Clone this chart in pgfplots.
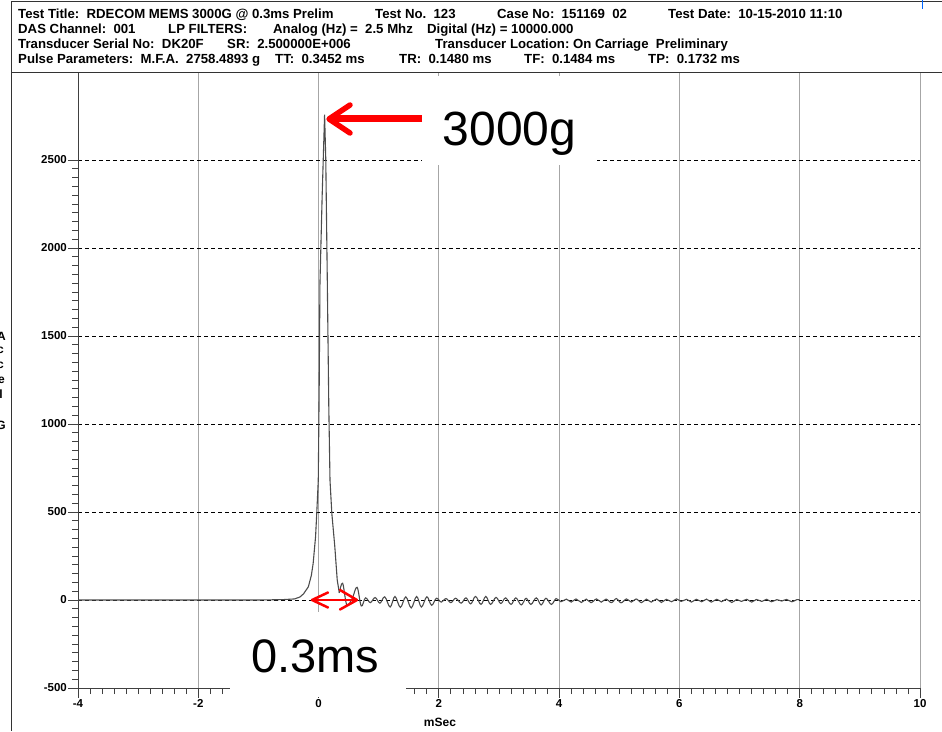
\documentclass[border=0pt]{standalone}
\usepackage{fontspec}
\setmainfont{Liberation Sans}
\usepackage{pgfplots}
\pgfplotsset{compat=1.18}

\begin{document}
\begin{tikzpicture}[x=1pt,y=1pt]
\useasboundingbox (0,0) rectangle (942,731);
\begin{axis}[
  at={(78pt,43pt)}, anchor=south west,
  scale only axis, width=842pt, height=616pt,
  xmin=-4, xmax=10, ymin=-500, ymax=3000,
  axis x line*=bottom, axis y line*=left,
  axis line style={black!75, line width=1pt},
  xtick={-4,-2,...,10}, xticklabels={-4,-2,0,2,4,6,8,10},
  ytick={-500,0,...,2500}, yticklabels={-500,0,500,1000,1500,2000,2500},
  minor x tick num=9, minor y tick num=9,
  tick align=outside, major tick length=10pt, minor tick length=6pt,
  tick style={black!75, line width=0.8pt},
  ticklabel style={font=\bfseries\fontsize{11.5}{12}\selectfont, inner sep=1pt},
  grid=major,
  major x grid style={gray!70, line width=1pt},
  major y grid style={black, line width=0.8pt, dash pattern=on 4pt off 3pt},
  clip=false,
]
% main pulse
\addplot[black!70, line width=1.1pt] coordinates {
(-4,0) (-1,0) (-0.6,2) (-0.4,6) (-0.31,17) (-0.25,35) (-0.17,75) (-0.12,140)
(-0.09,208) (-0.05,360) (-0.03,494) (-0.005,680) (0.01,1200) (0.023,1800)
(0.06,2300) (0.1,2758) (0.12,2500) (0.145,1818) (0.17,1100) (0.19,680)
(0.22,494) (0.27,303) (0.31,114) (0.345,40)
};
% ringing after the pulse
\addplot[black!70, line width=1.1pt, smooth, tension=0.6] coordinates {
(0.345,40) (0.40,95) (0.47,-28) (0.56,10) (0.64,72) (0.71,-34) (0.78,12)
(0.86,-15) (0.94,14) (1.02,-18) (1.10,18) (1.19,-40) (1.27,20) (1.36,-42)
(1.45,18) (1.54,-45) (1.63,20) (1.71,-40) (1.80,18) (1.88,-30) (1.96,10)
(2.04,-12) (2.12,8) (2.20,-15) (2.28,10) (2.37,-18) (2.45,12) (2.53,-22)
(2.61,20) (2.70,-25) (2.78,20) (2.86,-25) (2.95,15) (3.03,-20) (3.11,12)
(3.20,-25) (3.28,12) (3.37,-28) (3.45,10) (3.53,-25) (3.62,12) (3.70,-28)
(3.78,10) (3.87,-25) (3.95,8) (4.03,-10) (4.12,5) (4.20,-12) (4.28,6)
(4.37,-14) (4.45,5) (4.53,-15) (4.62,6) (4.70,-12) (4.78,5) (4.87,-15)
(4.95,8) (5.03,-16) (5.12,6) (5.20,-12) (5.28,6) (5.37,-15) (5.45,5)
(5.53,-12) (5.62,6) (5.70,-14) (5.78,4) (5.87,-10) (5.95,6) (6.03,-8)
(6.12,4) (6.20,-12) (6.28,4) (6.37,-10) (6.45,5) (6.53,-12) (6.62,4)
(6.70,-10) (6.78,5) (6.87,-14) (6.95,3) (7.03,-8) (7.12,4) (7.20,-12)
(7.28,3) (7.37,-8) (7.45,4) (7.53,-10) (7.62,2) (7.70,-6) (7.78,3)
(7.87,-10) (7.95,2) (8.00,0)
};
\end{axis}

% header box
\draw[black!80, line width=0.8pt] (942,659) -- (11,659) -- (11,0);
\draw[black!80, line width=0.8pt] (11,659) -- (11,729.5) -- (942,729.5);
\draw[blue!60!cyan, line width=1pt] (922,731) -- (922,722);

\begin{scope}[every node/.style={anchor=base west, inner sep=0pt,
    font=\bfseries\fontsize{13.2}{14}\selectfont}]
\node at (18,712) {Test Title:\ \ RDECOM MEMS 3000G @ 0.3ms Prelim};
\node at (375,712) {Test No.\ \ 123};
\node at (497,712) {Case No:\ \ 151169\ \ 02};
\node at (668,712) {Test Date:\ \ 10-15-2010 11:10};
\node at (18,697) {DAS Channel:\ \ 001};
\node at (168,697) {LP FILTERS:};
\node at (273,697) {Analog (Hz) =\ \ 2.5 Mhz};
\node at (427,697) {Digital (Hz) = 10000.000};
\node at (18,682) {Transducer Serial No:\ \ DK20F};
\node at (227,682) {SR:\ \ 2.500000E+006};
\node at (435,682) {Transducer Location:\ On Carriage\ \ Preliminary};
\node at (18,667) {Pulse Parameters:\ \ M.F.A.\ \ 2758.4893 g};
\node at (275,667) {TT:\ \ 0.3452 ms};
\node at (399,667) {TR:\ \ 0.1480 ms};
\node at (524,667) {TF:\ \ 0.1484 ms};
\node at (648,667) {TP:\ \ 0.1732 ms};
\end{scope}

% axis titles
\node[font=\bfseries\fontsize{12}{12}\selectfont] at (440,9) {mSec};
\begin{scope}[every node/.style={anchor=east, inner sep=0pt,
    font=\bfseries\fontsize{12}{12}\selectfont}]
\node at (6,395) {A};
\node at (4,381) {c};
\node at (4,366) {c};
\node at (5,351) {e};
\node at (3,337) {l};
\node at (6,306) {G};
\end{scope}

% annotations
\fill[white] (422,566) rectangle (597,655);
\node[anchor=base, inner sep=0pt, font=\fontsize{48}{48}\selectfont] at (509.5,585) {3000g};
\draw[red, line width=7pt] (422,612) -- (334,612);
\draw[red, line width=5.5pt, line cap=round, line join=round] (350,626) -- (329,612) -- (350,598);

\fill[white] (230,34) rectangle (406,119);
\node[anchor=base, inner sep=0pt, font=\fontsize{47}{47}\selectfont] at (315,59) {0.3ms};
\draw[red, line width=2.5pt] (313,131) -- (355,131);
\draw[red, line width=2.5pt, line cap=round, line join=round] (328,138.5) -- (312,131) -- (328,123.5);
\draw[red, line width=2.5pt, line cap=round, line join=round] (340,141) -- (357,131) -- (340,121.5);
\end{tikzpicture}
\end{document}
